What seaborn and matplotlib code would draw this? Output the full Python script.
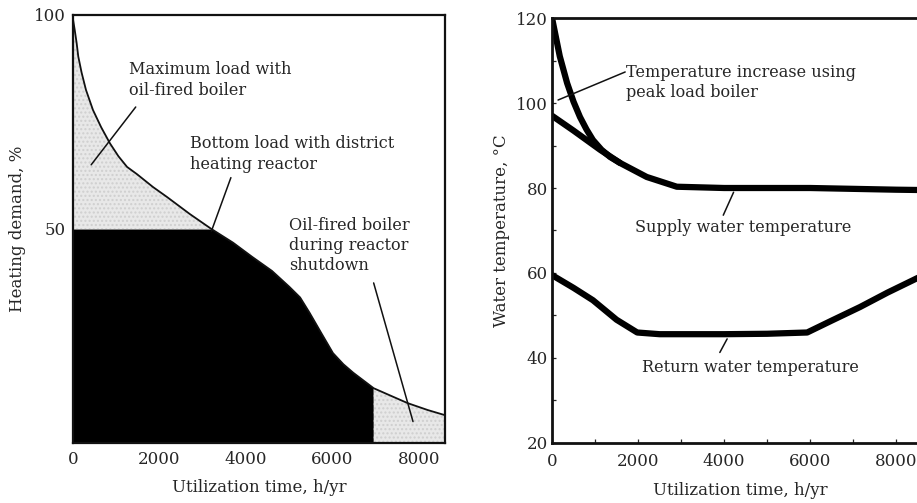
import numpy as np
import pandas as pd
import matplotlib
matplotlib.use("Agg")
import matplotlib.pyplot as plt
import seaborn as sns

# ---- data: left panel (heating demand duration curve) ----
demand_hours = [0, 40, 85, 122, 200, 300, 462, 650, 855, 1050, 1250, 1480,
                1850, 2170, 2700, 3200, 3700, 4140, 4600, 5000, 5250, 5470,
                5750, 6010, 6250, 6480, 6950, 7400, 7740, 8200, 8600]
demand_pct = [99, 96.5, 93.4, 90.3, 86.5, 82.5, 77.8, 73.8, 70, 67, 64.5, 62.8,
              59.8, 57.5, 53.5, 50, 46.8, 43.5, 40.2, 36.5, 34, 30.4,
              25.5, 21, 18.4, 16.4, 12.8, 10.8, 9.3, 7.7, 6.5]
reactor_level = 50
shutdown_start = 6950

# ---- data: right panel (water temperatures) ----
supply_hours = [0, 500, 1116, 1580, 2200, 2900, 4000, 5000, 6000, 7000, 8000, 8760]
supply_temp = [97, 93.5, 89, 85.9, 82.6, 80.3, 80, 80, 80, 79.8, 79.6, 79.5]
peak_hours = [0, 80, 180, 350, 500, 650, 800, 950, 1150, 1350, 1580]
peak_temp = [120, 116, 111, 104.7, 100.3, 96.7, 93.8, 91.3, 89, 87.3, 85.9]
return_hours = [0, 500, 950, 1500, 1980, 2500, 4000, 5000, 5930, 6500, 7160, 7800, 8490, 8760]
return_temp = [59.5, 56.5, 53.6, 49, 46, 45.6, 45.6, 45.7, 46, 48.8, 52, 55.4, 58.8, 60]

left_xticks = [0, 2000, 4000, 6000, 8000]
left_yticks = [50, 100]
right_xticks = [0, 2000, 4000, 6000, 8000]
right_yticks = [20, 40, 60, 80, 100, 120]

sns.set_theme(style="white")
plt.rcParams["font.family"] = ["DejaVu Serif", "Liberation Serif"]
ink = "#262626"
plt.rcParams["text.color"] = ink
plt.rcParams["axes.labelcolor"] = ink
plt.rcParams["xtick.color"] = ink
plt.rcParams["ytick.color"] = ink

fig = plt.figure(figsize=(9.17, 5.03), dpi=100)
fs = 12
afs = 11.6
ls = 1.25

# ================= LEFT PANEL =================
ax1 = fig.add_axes([0.0796, 0.1193, 0.4057, 0.8509])
hx = np.array(demand_hours, float)
hy = np.array(demand_pct, float)
gx = np.linspace(hx[0], hx[-1], 1200)
gy = np.interp(gx, hx, hy)
base = np.minimum(gy, reactor_level)
run = gx <= shutdown_start
ax1.fill_between(gx, 0, base, where=run, color="black", lw=0, interpolate=True)
ax1.fill_between(gx, base, gy, where=run & (gy > reactor_level), facecolor="#e8e8e8",
                 edgecolor="#cfcfcf", hatch="....", lw=0, interpolate=True)
ax1.fill_between(gx, 0, gy, where=~run, facecolor="#e8e8e8",
                 edgecolor="#cfcfcf", hatch="....", lw=0)
sns.lineplot(x=demand_hours, y=demand_pct, ax=ax1, color="#111111", lw=1.3, sort=False)
ax1.set_xlim(0, 8600)
ax1.set_ylim(0, 100)
ax1.set_xticks(left_xticks)
ax1.set_xticklabels([str(v) for v in left_xticks], fontsize=fs)
ax1.set_yticks(left_yticks)
ax1.set_yticklabels([str(v) for v in left_yticks], fontsize=fs)
ax1.set_yticks(np.arange(10, 100, 10), minor=True)
ax1.tick_params(axis="y", which="minor", direction="in", length=3, width=0.8, left=True)
ax1.tick_params(axis="y", which="major", direction="in", length=0, pad=5)
ax1.tick_params(axis="x", which="major", length=0, pad=6)
for s in ax1.spines.values():
    s.set_color("#111111")
    s.set_linewidth(1.6)
ax1.set_xlabel("Utilization time, h/yr", fontsize=fs, labelpad=8)
ax1.set_ylabel("Heating demand, %", fontsize=fs, labelpad=6)

ax1.text(1300, 84.8, "Maximum load with\noil-fired boiler", fontsize=afs, va="center", ha="left",
         linespacing=ls)
ax1.plot([1450, 420], [78.5, 65], color="#111111", lw=1.1)
ax1.text(2700, 67.5, "Bottom load with district\nheating reactor", fontsize=afs, va="center",
         ha="left", linespacing=ls)
ax1.plot([3650, 3200], [62, 49.5], color="#111111", lw=1.1)
ax1.text(5000, 46.2, "Oil-fired boiler\nduring reactor\nshutdown", fontsize=afs, va="center",
         ha="left", linespacing=ls)
ax1.plot([6950, 7860], [37.4, 5], color="#111111", lw=1.1)

# ================= RIGHT PANEL =================
ax2 = fig.add_axes([0.602, 0.1193, 0.411, 0.8449])
sns.lineplot(x=supply_hours, y=supply_temp, ax=ax2, color="black", lw=4.5, sort=False)
sns.lineplot(x=peak_hours, y=peak_temp, ax=ax2, color="black", lw=4.5, sort=False)
sns.lineplot(x=return_hours, y=return_temp, ax=ax2, color="black", lw=4.5, sort=False)
ax2.set_xlim(0, 8760)
ax2.set_ylim(20, 120)
ax2.set_xticks(right_xticks)
ax2.set_xticklabels([str(v) for v in right_xticks], fontsize=fs)
ax2.set_xticks(np.arange(1000, 8760, 2000), minor=True)
ax2.set_yticks(right_yticks)
ax2.set_yticklabels([str(v) for v in right_yticks], fontsize=fs)
ax2.set_yticks(np.arange(30, 120, 20), minor=True)
ax2.tick_params(axis="both", which="both", direction="in", length=3, width=0.9,
                left=True, bottom=True)
ax2.tick_params(axis="x", which="major", pad=7)
ax2.tick_params(axis="y", which="major", pad=3)
ax2.spines["right"].set_visible(False)
for k in ["left", "bottom", "top"]:
    ax2.spines[k].set_color("#111111")
    ax2.spines[k].set_linewidth(2.0)
ax2.set_xlabel("Utilization time, h/yr", fontsize=fs, labelpad=9)
ax2.set_ylabel("Water temperature, °C", fontsize=fs, labelpad=4)

ax2.text(1720, 104.9, "Temperature increase using\npeak load boiler", fontsize=afs,
         va="center", ha="left", linespacing=ls)
ax2.plot([1700, 140], [107.3, 100.7], color="#111111", lw=1.1)
ax2.text(1920, 70.6, "Supply water temperature", fontsize=afs, va="center", ha="left")
ax2.plot([4220, 3980], [79, 73.6], color="#111111", lw=1.1)
ax2.text(2100, 37.8, "Return water temperature", fontsize=afs, va="center", ha="left")
ax2.plot([4070, 3900], [44.5, 41.3], color="#111111", lw=1.1)

fig.savefig("out.png", dpi=100)
